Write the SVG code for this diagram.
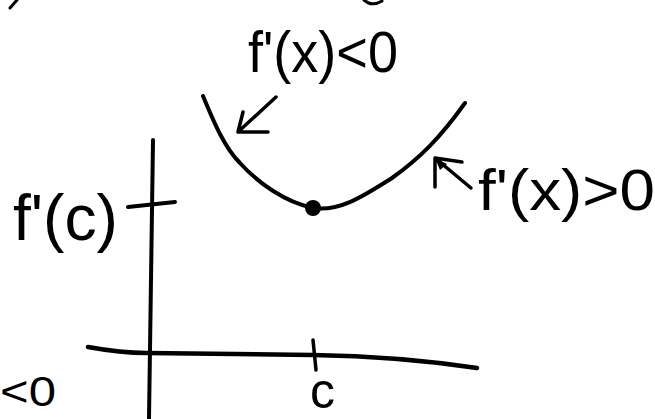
<svg xmlns="http://www.w3.org/2000/svg" width="655" height="419" viewBox="0 0 655 419">
<style>
.ink{fill:none;stroke:#000;stroke-linecap:round;stroke-linejoin:round}
.t{font-family:"Liberation Sans","DejaVu Sans",sans-serif;fill:#000}
</style>
<rect width="655" height="419" fill="#fff"/>
<g id="fragments">
<path class="ink" stroke-width="3" d="M17 0 L10 8"/>
<path class="ink" stroke-width="3" d="M364 0 Q372 7 382 1"/>
</g>
<g id="curve">
<path class="ink" stroke-width="4" d="M203 96 C215 125 225 148 240 163 C258 183 285 202 313 208 C340 212 365 195 392 178 C420 158 440 138 465 103"/>
<circle cx="313" cy="208" r="8" fill="#000"/>
</g>
<g id="axes">
<path class="ink" stroke-width="4" d="M153 140 L149 419"/>
<path class="ink" stroke-width="4" d="M128 207 L175 202"/>
<path class="ink" stroke-width="4.5" d="M88 347 C110 351 130 353 147 353 L313 355 C380 356 430 361 477 368"/>
<path class="ink" stroke-width="3.5" d="M313 340 L316 370"/>
</g>
<g id="arrows">
<path class="ink" stroke-width="3.5" d="M276 97 L238 132 M243 112 L238 132 L268 132"/>
<path class="ink" stroke-width="3.5" d="M471 188 L435 158 M435 187 L435 158 L462 162"/>
<path d="M435 158 L447 164 L440 170 Z" fill="#000"/>
</g>
<g id="labels">
<text class="t" x="248" y="72" font-size="58" textLength="150" lengthAdjust="spacingAndGlyphs">f'(x)&lt;0</text>
<text class="t" x="478" y="210" font-size="58" textLength="177" lengthAdjust="spacingAndGlyphs">f'(x)&gt;0</text>
<text class="t" x="13" y="240" font-size="64" textLength="105" lengthAdjust="spacingAndGlyphs">f'(c)</text>
<text class="t" x="310" y="408" font-size="50">c</text>
<text class="t" x="0" y="406" font-size="42" textLength="56" lengthAdjust="spacingAndGlyphs">&lt;0</text>
</g>
</svg>
